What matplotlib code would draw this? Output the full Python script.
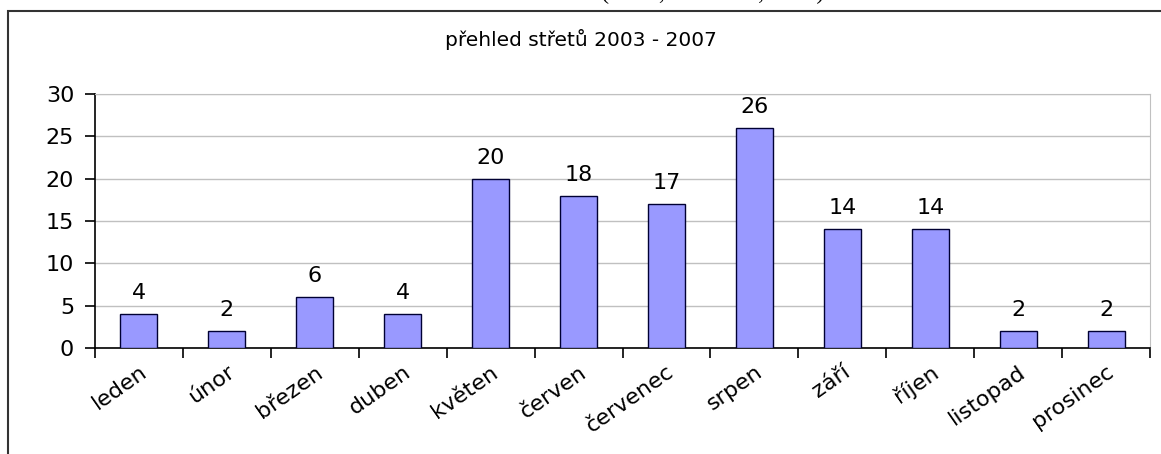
import matplotlib.pyplot as plt
from matplotlib.patches import Rectangle

plt.rcParams['font.family'] = ['DejaVu Sans']

mesice = ['leden', 'únor', 'březen', 'duben', 'květen', 'červen',
          'červenec', 'srpen', 'září', 'říjen', 'listopad', 'prosinec']
strety = [4, 2, 6, 4, 20, 18, 17, 26, 14, 14, 2, 2]
y_ticks = [0, 5, 10, 15, 20, 25, 30]

fig = plt.figure(figsize=(11.61, 4.54), dpi=100)

# ramecek grafu
fig.patches.append(Rectangle((8 / 1161, -0.05), 1.1, 1 - 11 / 454 + 0.05,
                             transform=fig.transFigure, fill=False,
                             edgecolor='#333333', linewidth=1.5))
# oriznuty text nad grafem
fig.text(0.5, 1.02, 'v období od r. 2003 – 2007" (Gaňa,Šamalová, 2011).',
         ha='center', va='center', fontsize=17, family='Liberation Serif')

fig.text(0.5, 1 - 40 / 454, 'přehled střetů 2003 - 2007', ha='center',
         va='center', fontsize=14.5)

ax = fig.add_axes([95 / 1161, 1 - 348 / 454, 1055 / 1161, 254 / 454])
x = range(len(mesice))
ax.bar(x, strety, width=0.42, color='#9999ff', edgecolor='#000033',
       linewidth=1, zorder=3)
for i, v in enumerate(strety):
    ax.text(i, v + 1.3, str(v), ha='center', va='bottom', fontsize=16)

ax.set_xlim(-0.5, len(mesice) - 0.5)
ax.set_ylim(0, 30)
ax.set_yticks(y_ticks)
ax.yaxis.grid(True, color='#c0c0c0', linewidth=1, zorder=0)
ax.set_xticks([i - 0.5 for i in range(len(mesice) + 1)])
ax.set_xticklabels([])
ax.set_xticks(list(x), minor=True)
ax.set_xticklabels(mesice, minor=True, rotation=35, ha='right',
                   rotation_mode='anchor', fontsize=16)
ax.tick_params(axis='x', which='minor', length=0, pad=10)
ax.tick_params(axis='x', which='major', length=7, width=1.2, direction='out')
ax.tick_params(axis='y', length=7, width=1.2, labelsize=16, pad=8)
for s in ['top', 'right']:
    ax.spines[s].set_color('#c0c0c0')
ax.spines['left'].set_linewidth(1.2)
ax.spines['bottom'].set_linewidth(1.2)

plt.savefig('out.png', dpi=100)
